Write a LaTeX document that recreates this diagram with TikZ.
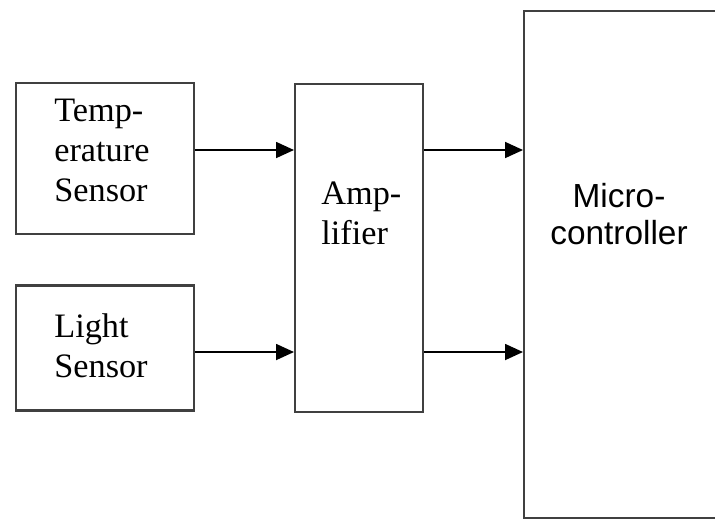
\documentclass[tikz,border=0pt]{standalone}
\usepackage{fontspec}
\setmainfont{Liberation Serif}
\setsansfont{Liberation Sans}
\usetikzlibrary{arrows.meta,positioning}

\begin{document}
\begin{tikzpicture}[node distance=0.98cm and 2.0cm, every node/.style={font=\fontsize{19.5}{22.6}\selectfont}]
\tikzset{blk/.style={draw=black!75, line width=1.3pt, inner sep=0pt, anchor=north west}}
\tikzset{lbl/.style={inner sep=0pt, align=left, anchor=west}}
\tikzset{sig/.style={line width=1pt, -{Triangle[length=3.6mm, width=3.2mm]}}}
\useasboundingbox (0,0) rectangle (14.3,-10.38);
\clip (0,0) rectangle (14.3,-10.38);
% blocks
\node[blk, minimum width=3.56cm, minimum height=3.02cm] (temp) at (0.3,-1.64) {};
\node[blk, minimum width=3.56cm, minimum height=2.5cm, below=of temp] (light) {};
\node[blk, minimum width=2.56cm, minimum height=6.56cm] (amp) at (5.88,-1.66) {};
\node[blk, minimum width=4.8cm, minimum height=10.14cm] (micro) at (10.46,-0.2) {};
% texts
\node[lbl] (templ) at (1.08,-3.01) {Temp-\\erature\\Sensor};
\node[lbl] (lightl) at (1.08,-6.91) {Light\\Sensor};
\node[lbl] (ampl) at (6.42,-4.26) {Amp-\\lifier};
\node[lbl, anchor=center, align=center, font=\sffamily\fontsize{19}{21}\selectfont] (microl) at (12.38,-4.28) {Micro-\\controller};
% signals
\coordinate (r1) at (0,-3.0);
\coordinate (r2) at (0,-7.04);
\draw[sig] (temp.east |- r1) -- (amp.west |- r1);
\draw[sig] (light.east |- r2) -- (amp.west |- r2);
\draw[sig] (amp.east |- r1) -- (micro.west |- r1);
\draw[sig] (amp.east |- r2) -- (micro.west |- r2);
\end{tikzpicture}
\end{document}
